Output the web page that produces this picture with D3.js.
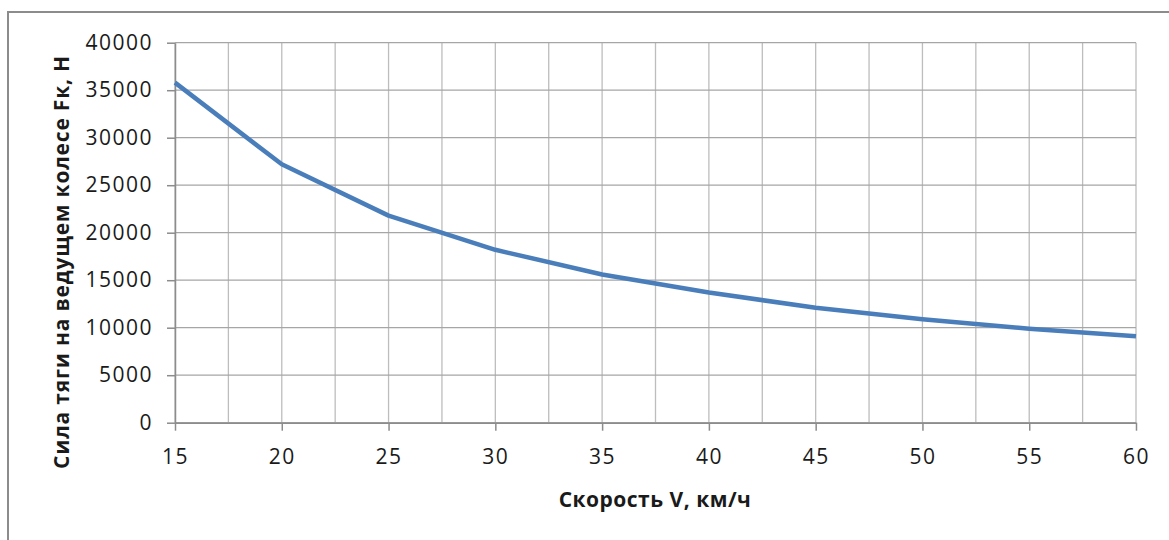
<!DOCTYPE html>
<html>
<head>
<meta charset="utf-8">
<script src="https://cdn.jsdelivr.net/npm/d3@7"></script>
<style>
  body { margin: 0; background: #fff; }
  svg text { font-family: 'Open Sans', 'Noto Sans', sans-serif; fill: #1a1a1a; }
</style>
</head>
<body>
<svg id="chart" width="1169" height="540"></svg>
<script>
// speed V, km/h
const speeds = [15, 20, 25, 30, 35, 40, 45, 50, 55, 60]
// tractive force at the driving wheel, N
const forces = [35800, 27200, 21800, 18200, 15600, 13700, 12100, 10900, 9900, 9100]
const xTicks = [15, 20, 25, 30, 35, 40, 45, 50, 55, 60]
const xGrid = d3.range(15, 60.01, 2.5)
const yTicks = [0, 5000, 10000, 15000, 20000, 25000, 30000, 35000, 40000]
const xTitle = 'Скорость V, км/ч'
const yTitle = 'Сила тяги на ведущем колесе Fк, Н'

const svg = d3.select('#chart')
const margin = { left: 175, right: 1136, top: 42.7, bottom: 422.7 }

// outer chart frame
svg.append('rect')
  .attr('x', 8).attr('y', 12)
  .attr('width', 1180).attr('height', 560)
  .attr('fill', 'none')
  .attr('stroke', '#8c8c8c')
  .attr('stroke-width', 2)

const x = d3.scaleLinear().domain([15, 60]).range([margin.left, margin.right])
const y = d3.scaleLinear().domain([0, 40000]).range([margin.bottom, margin.top])

// gridlines
svg.append('g').selectAll('line.v')
  .data(xGrid)
  .join('line')
  .attr('x1', d => x(d)).attr('x2', d => x(d))
  .attr('y1', margin.top).attr('y2', margin.bottom)
  .attr('stroke', '#bdbdbd').attr('stroke-width', 1.3)

svg.append('g').selectAll('line.h')
  .data(yTicks)
  .join('line')
  .attr('x1', margin.left).attr('x2', margin.right)
  .attr('y1', d => y(d)).attr('y2', d => y(d))
  .attr('stroke', '#a6a6a6').attr('stroke-width', 1.3)

// axes
const xAxis = svg.append('g')
  .attr('transform', `translate(0,${margin.bottom})`)
  .call(d3.axisBottom(x).tickValues(xTicks).tickFormat(d3.format('d'))
    .tickSize(8).tickPadding(18).tickSizeOuter(0))
const yAxis = svg.append('g')
  .attr('transform', `translate(${margin.left},0)`)
  .call(d3.axisLeft(y).tickValues(yTicks).tickFormat(d3.format('d'))
    .tickSize(8).tickPadding(14).tickSizeOuter(0))

;[xAxis, yAxis].forEach(a => {
  a.select('.domain').attr('stroke', '#8c8c8c').attr('stroke-width', 1.5)
  a.selectAll('.tick line').attr('stroke', '#8c8c8c').attr('stroke-width', 1.5)
  a.selectAll('.tick text').attr('font-size', 21).attr('fill', '#1a1a1a')
    .attr('letter-spacing', 1.5)
    .attr('font-family', "'Open Sans', sans-serif")
})

// curve
const line = d3.line()
  .x((d, i) => x(speeds[i]))
  .y(d => y(d))

svg.append('path')
  .datum(forces)
  .attr('d', line)
  .attr('fill', 'none')
  .attr('stroke', '#4a7ebb')
  .attr('stroke-width', 4.5)
  .attr('stroke-linejoin', 'round')

// titles
svg.append('text')
  .attr('x', 655).attr('y', 507)
  .attr('text-anchor', 'middle')
  .attr('font-size', 21).attr('font-weight', 'bold')
  .attr('letter-spacing', 0.5)
  .text(xTitle)

svg.append('text')
  .attr('transform', 'translate(69,262) rotate(-90)')
  .attr('text-anchor', 'middle')
  .attr('font-size', 21).attr('font-weight', 'bold')
  .attr('letter-spacing', 0.8)
  .text(yTitle)
</script>
</body>
</html>
